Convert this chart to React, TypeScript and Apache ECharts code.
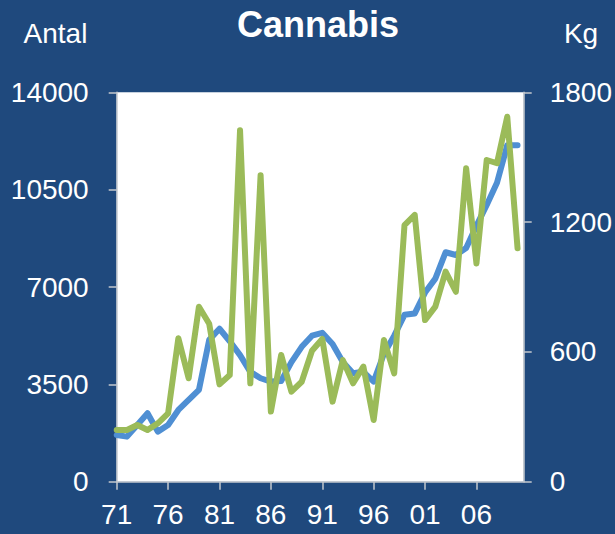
import React, { useEffect, useRef } from "react";
import * as echarts from "echarts";

const years: number[] = [
  1971, 1972, 1973, 1974, 1975, 1976, 1977, 1978, 1979, 1980,
  1981, 1982, 1983, 1984, 1985, 1986, 1987, 1988, 1989, 1990,
  1991, 1992, 1993, 1994, 1995, 1996, 1997, 1998, 1999, 2000,
  2001, 2002, 2003, 2004, 2005, 2006, 2007, 2008, 2009, 2010,
];

// Antal (left axis)
const antal: number[] = [
  1680, 1620, 2040, 2460, 1800, 2040, 2580, 2940, 3300, 5100,
  5500, 5050, 4550, 3950, 3720, 3600, 3620, 4300, 4850, 5250,
  5350, 4950, 4300, 3900, 3950, 3600, 4600, 5250, 6000, 6050,
  6800, 7300, 8250, 8150, 8400, 9200, 9950, 10750, 12100, 12100,
];

// Kg (right axis)
const kg: number[] = [
  239, 239, 262, 239, 270, 316, 663, 478, 809, 730,
  450, 493, 1625, 455, 1417, 324, 586, 416, 462, 605,
  660, 370, 562, 455, 532, 285, 655, 501, 1186, 1233,
  747, 809, 971, 878, 1449, 1009, 1487, 1472, 1687, 1079,
];

const xTickLabels: string[] = ["71", "76", "81", "86", "91", "96", "01", "06"];
const leftTicks: number[] = [0, 3500, 7000, 10500, 14000];
const rightTicks: number[] = [0, 600, 1200, 1800];

const FONT = "'Liberation Sans', Arial, Helvetica, sans-serif";
const BG = "#1F497D";
const AXIS = "#C4C8CE";

export default function App() {
  const ref = useRef<HTMLDivElement>(null);

  useEffect(() => {
    document.body.style.margin = "0";
    if (!ref.current) return;
    const chart = echarts.init(ref.current, undefined, { renderer: "svg" });
    const base = years[0];
    const antalData = years.map((y, i) => [y - base, antal[i]]);
    const kgData = years.map((y, i) => [y - base, kg[i]]);

    chart.setOption({
      animation: false,
      backgroundColor: BG,
      graphic: [
        {
          type: "text",
          style: {
            x: 318, y: 6, text: "Cannabis", fill: "#fff", fontSize: 36, fontWeight: "bold",
            fontFamily: FONT, align: "center", verticalAlign: "top",
          },
        },
        {
          type: "text",
          style: {
            x: 55.5, y: 19, text: "Antal", fill: "#fff", fontSize: 28, fontFamily: FONT,
            align: "center", verticalAlign: "top",
          },
        },
        {
          type: "text",
          style: {
            x: 581, y: 19, text: "Kg", fill: "#fff", fontSize: 28, fontFamily: FONT,
            align: "center", verticalAlign: "top",
          },
        },
      ],
      grid: {
        left: 116.7,
        right: 91,
        top: 92.3,
        bottom: 52.3,
        show: true,
        backgroundColor: "#fff",
        borderWidth: 0,
      },
      xAxis: {
        type: "value",
        min: 0,
        max: 39.6,
        interval: 5,
        axisLine: { show: true, lineStyle: { color: AXIS, width: 1.5 } },
        axisTick: { show: true, length: 8, lineStyle: { color: AXIS, width: 1.5 } },
        splitLine: { show: false },
        axisLabel: {
          color: "#fff",
          fontSize: 28,
          fontFamily: FONT,
          margin: 19,
          showMaxLabel: false,
          formatter: (v: number) => {
            const idx = Math.round(v) / 5;
            return Number.isInteger(idx) && xTickLabels[idx] !== undefined ? xTickLabels[idx] : "";
          },
        },
      },
      yAxis: [
        {
          type: "value",
          min: leftTicks[0],
          max: leftTicks[leftTicks.length - 1],
          interval: leftTicks[1] - leftTicks[0],
          position: "left",
          axisLine: { show: true, lineStyle: { color: AXIS, width: 1.5 } },
          axisTick: { show: true, length: 8, lineStyle: { color: AXIS, width: 1.5 } },
          splitLine: { show: false },
          axisLabel: {
            color: "#fff", fontSize: 28, fontFamily: FONT, margin: 28,
            formatter: (v: number) => String(v),
          },
        },
        {
          type: "value",
          min: rightTicks[0],
          max: rightTicks[rightTicks.length - 1],
          interval: rightTicks[1] - rightTicks[0],
          position: "right",
          axisLine: { show: true, lineStyle: { color: AXIS, width: 1.5 } },
          axisTick: { show: true, length: 8, lineStyle: { color: AXIS, width: 1.5 } },
          splitLine: { show: false },
          axisLabel: {
            color: "#fff", fontSize: 28, fontFamily: FONT, margin: 26,
            formatter: (v: number) => String(v),
          },
        },
      ],
      series: [
        {
          name: "Antal",
          type: "line",
          yAxisIndex: 0,
          data: antalData,
          showSymbol: false,
          symbol: "none",
          lineStyle: { color: "#4F8FD3", width: 6, join: "round", cap: "round" },
          z: 2,
        },
        {
          name: "Kg",
          type: "line",
          yAxisIndex: 1,
          data: kgData,
          showSymbol: false,
          symbol: "none",
          lineStyle: { color: "#9BBB59", width: 6, join: "round", cap: "round" },
          z: 3,
        },
      ],
    });

    return () => chart.dispose();
  }, []);

  return <div ref={ref} style={{ width: 615, height: 534 }} />;
}
